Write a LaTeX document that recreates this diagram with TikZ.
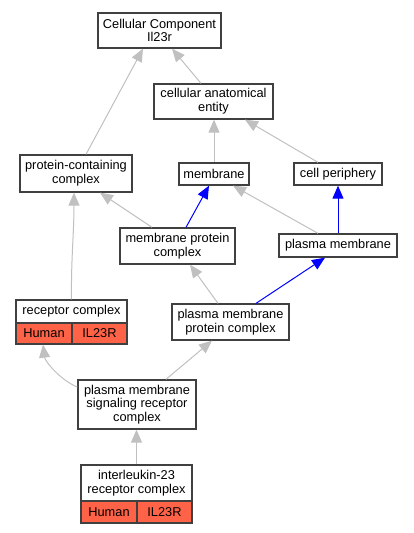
\documentclass[tikz,border=0pt]{standalone}
\usepackage{fontspec}
\setmainfont{Liberation Sans}
\usetikzlibrary{arrows.meta}
\definecolor{edgegray}{HTML}{C0C0C0}
\definecolor{tomato}{HTML}{FF6347}
\definecolor{bordergray}{HTML}{404040}
\tikzset{
  box/.style={draw=bordergray, line width=1.3pt, fill=white, inner sep=0pt, align=center,
    font=\fontsize{12.8}{13.8}\selectfont},
  cell/.style={box, fill=tomato},
  isa/.style={draw=edgegray, line width=1pt, -{Triangle[length=13pt,width=11pt]}},
  partof/.style={draw=blue, line width=1pt, -{Triangle[length=13pt,width=11pt]}},
}
\begin{document}
\begin{tikzpicture}[x=1pt,y=1pt]
\useasboundingbox (0,0) rectangle (413,533);
% nodes
\node[box, minimum width=123pt, minimum height=35pt] (cc) at (159.5,502.5) {Cellular Component\\Il23r};
\node[box, minimum width=119pt, minimum height=35pt] (cae) at (213.5,431.5) {cellular anatomical\\entity};
\node[box, minimum width=112pt, minimum height=37pt] (pcc) at (76,359.5) {protein-containing\\complex};
\node[box, minimum width=70pt, minimum height=22pt] (mem) at (214,359) {membrane};
\node[box, minimum width=88pt, minimum height=22pt] (cp) at (338,359) {cell periphery};
\node[box, minimum width=115pt, minimum height=36pt] (mpc) at (177.5,287) {membrane protein\\complex};
\node[box, minimum width=118pt, minimum height=23pt] (pm) at (338,287.5) {plasma membrane};
\node[box, minimum width=111pt, minimum height=23pt] (rc) at (71.5,221.5) {receptor complex};
\node[cell, minimum width=56pt, minimum height=21pt] (rch) at (44,199.5) {Human};
\node[cell, minimum width=55pt, minimum height=21pt] (rci) at (99.5,199.5) {IL23R};
\node[box, minimum width=117pt, minimum height=36pt] (pmpc) at (230.5,211) {plasma membrane\\protein complex};
\node[box, minimum width=118pt, minimum height=49pt] (pmsrc) at (137,128.5) {plasma membrane\\signaling receptor\\complex};
\node[box, minimum width=111pt, minimum height=36pt] (il) at (136.5,50) {interleukin-23\\receptor complex};
\node[cell, minimum width=56pt, minimum height=22pt] (ilh) at (109,21) {Human};
\node[cell, minimum width=55pt, minimum height=22pt] (ili) at (164.5,21) {IL23R};
% edges
\draw[isa] ([xshift=10pt]pcc.north) -- ([xshift=-16.5pt]cc.south);
\draw[isa] ([xshift=-12.5pt]cae.north) -- ([xshift=12.5pt]cc.south);
\draw[isa] (mem.north) -- (mem.north |- cae.south);
\draw[isa] ([xshift=-20pt]cp.north) -- ([xshift=31.5pt]cae.south);
\draw[isa] ([xshift=-25.5pt]mpc.north) -- ([xshift=24pt]pcc.south);
\draw[partof] ([xshift=8.5pt]mpc.north) -- ([xshift=-5pt]mem.south);
\draw[isa] ([xshift=-20pt]pm.north) -- ([xshift=19pt]mem.south);
\draw[partof] (pm.north) -- (cp.south);
\draw[isa] (rc.north) .. controls ([xshift=-0.5pt,yshift=40pt]rc.north) and ([xshift=-2pt,yshift=-40pt]pcc.south) .. ([xshift=-2pt]pcc.south);
\draw[isa] ([xshift=-12.5pt]pmpc.north) -- ([xshift=12.5pt]mpc.south);
\draw[partof] ([xshift=25.5pt]pmpc.north) -- ([xshift=-13pt]pm.south);
\draw[isa] ([yshift=17.5pt]pmsrc.west) .. controls (60,153) and (45,172) .. ([xshift=-1pt]rch.south);
\draw[isa] ([xshift=29pt]pmsrc.north) -- ([xshift=-18.5pt]pmpc.south);
\draw[isa] (il.north) -- (il.north |- pmsrc.south);
\end{tikzpicture}
\end{document}
